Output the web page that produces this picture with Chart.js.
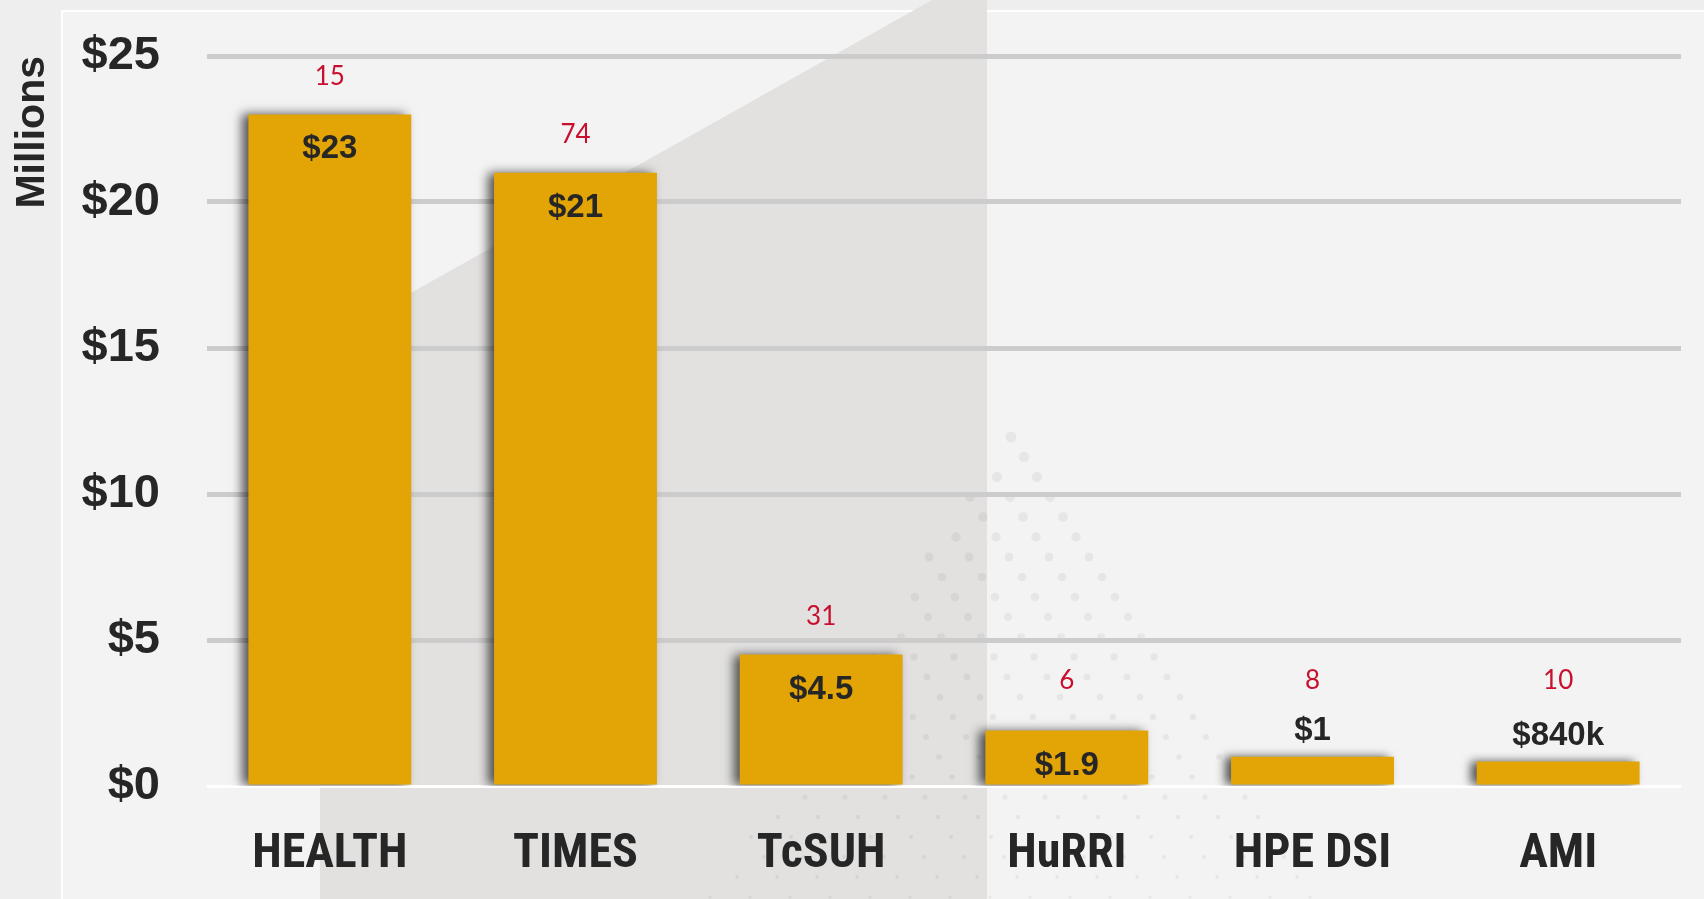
<!DOCTYPE html>
<html><head><meta charset="utf-8">
<script src="https://cdn.jsdelivr.net/npm/chart.js@4.4.1/dist/chart.umd.min.js"></script>
<style>html,body{margin:0;padding:0;background:#f3f2f3;overflow:hidden}#wrap{width:1704px;height:899px;position:relative}</style>
</head><body><div id="wrap"><canvas id="c"></canvas></div>
<script>
// ---- data ----
const categories = ['HEALTH', 'TIMES', 'TcSUH', 'HuRRI', 'HPE DSI', 'AMI'];
const fundingMillions = [23, 21, 4.5, 1.9, 1, 0.84];
const valueLabels = ['$23', '$21', '$4.5', '$1.9', '$1', '$840k'];
const counts = [15, 74, 31, 6, 8, 10];
const yTickLabels = ['$0', '$5', '$10', '$15', '$20', '$25'];
const yAxisTitle = 'Millions';

// ---- styling ----
const TEXT = '#262626';
const BAR = '#e3a505';
const RED = '#c8102e';
const BASE_FONT = '"Liberation Sans", Arial, sans-serif';

function fontAvailable(name) {
  const c = document.createElement('canvas').getContext('2d');
  const s = 'HEALTH TcSUH HuRRI';
  c.font = 'bold 40px monospace'; const a = c.measureText(s).width;
  c.font = 'bold 40px "' + name + '", monospace'; const b = c.measureText(s).width;
  return Math.abs(a - b) > 0.5;
}
let catFamily = BASE_FONT;
for (const f of ['Liberation Sans Narrow', 'Arial Narrow', 'Roboto Condensed', 'DejaVu Sans Condensed']) {
  if (fontAvailable(f)) { catFamily = '"' + f + '", ' + BASE_FONT; break; }
}
const mctx = document.createElement('canvas').getContext('2d');
mctx.font = 'bold 100px ' + catFamily;
let catSize = Math.round(100 * 154 / mctx.measureText('HEALTH').width);
catSize = Math.min(catSize, 50);

const backgroundPlugin = {
  id: 'bg',
  beforeDraw(chart) {
    const ctx = chart.ctx, W = chart.width, H = chart.height;
    ctx.save();
    ctx.fillStyle = '#efeeef'; ctx.fillRect(0, 0, W, H);
    ctx.fillStyle = '#f4f3f4'; ctx.fillRect(62, 11, W - 62, H - 11);
    ctx.strokeStyle = 'rgba(255,255,255,0.9)'; ctx.lineWidth = 2;
    ctx.beginPath(); ctx.moveTo(62, H); ctx.lineTo(62, 11); ctx.lineTo(W, 11); ctx.stroke();
    // decorative grey slanted shape
    ctx.fillStyle = '#e2e1e0';
    ctx.beginPath();
    ctx.moveTo(320, H); ctx.lineTo(320, 344); ctx.lineTo(932, 0); ctx.lineTo(987, 0); ctx.lineTo(987, H);
    ctx.closePath(); ctx.fill();
    // decorative dot pattern on a slanted lattice
    const ax = 1011, ay = 437, sp = 20, dx = 40, shift = 13;
    ctx.fillStyle = 'rgba(0,0,0,0.05)';
    for (let r = 0; ay + r * sp < H + 5; r++) {
      const y = ay + r * sp;
      const spread = 0.66 * (y - ay) + 4;
      const rad = Math.max(1.4, 5.5 - 3.8 * (y - ay) / 462);
      const base = ax + r * shift;
      const kmin = Math.ceil((ax - spread - base) / dx), kmax = Math.floor((ax + spread - base) / dx);
      for (let k = kmin; k <= kmax; k++) {
        const x = base + k * dx;
        ctx.beginPath(); ctx.arc(x, y, rad, 0, Math.PI * 2); ctx.fill();
      }
    }
    ctx.restore();
  }
};

const shadowPlugin = {
  id: 'barShadow',
  beforeDatasetsDraw(chart) {
    const ctx = chart.ctx; ctx.save();
    ctx.shadowColor = 'rgba(0,0,0,0.65)'; ctx.shadowBlur = 10;
    ctx.shadowOffsetX = -6; ctx.shadowOffsetY = 0;
  },
  afterDatasetsDraw(chart) { chart.ctx.restore(); }
};

const labelPlugin = {
  id: 'labels',
  afterDraw(chart) {
    const ctx = chart.ctx, meta = chart.getDatasetMeta(0), ys = chart.scales.y;
    const countFloor = ys.getPixelForValue(3.6);
    ctx.save();
    ctx.textAlign = 'center'; ctx.textBaseline = 'middle';
    meta.data.forEach((bar, i) => {
      const top = bar.y, h = bar.base - bar.y;
      ctx.fillStyle = TEXT;
      ctx.font = 'bold 33px ' + BASE_FONT;
      const vy = h > 45 ? top + 35 : top - 26;
      ctx.fillText(valueLabels[i], bar.x, vy);
      ctx.fillStyle = RED;
      ctx.font = '26px Lato, "Open Sans", sans-serif';
      ctx.fillText(String(counts[i]), bar.x, Math.min(top - 38, countFloor));
    });
    ctx.restore();
  }
};

new Chart(document.getElementById('c'), {
  type: 'bar',
  data: {
    labels: categories,
    datasets: [{
      data: fundingMillions,
      backgroundColor: BAR,
      borderWidth: 0,
      categoryPercentage: 1,
      barPercentage: 0.663
    }]
  },
  options: {
    responsive: true,
    maintainAspectRatio: false,
    animation: false,
    layout: { padding: { top: 56, right: 23, left: 0, bottom: 0 } },
    plugins: { legend: { display: false }, tooltip: { enabled: false } },
    scales: {
      x: {
        grid: { display: false, drawTicks: false },
        border: { display: false },
        ticks: { color: TEXT, font: { family: catFamily, size: catSize, weight: 'bold' }, padding: 855 - 786 - catSize * 0.6, maxRotation: 0, autoSkip: false },
        afterFit(s) { s.height = 899 - 786; s.paddingLeft = 0; s.paddingRight = 0; }
      },
      y: {
        min: 0, max: 25,
        ticks: {
          stepSize: 5, padding: 47, color: TEXT,
          font: { family: BASE_FONT, size: 47, weight: 'bold' },
          callback: (v) => yTickLabels[Math.round(v / 5)]
        },
        grid: {
          drawTicks: false,
          color: (c) => c.tick && c.tick.value === 0 ? '#ffffff' : '#cdcccc',
          lineWidth: (c) => c.tick && c.tick.value === 0 ? 3 : 5
        },
        border: { display: false },
        title: {
          display: true, text: yAxisTitle, align: 'end', color: TEXT,
          font: { family: BASE_FONT, size: 41, weight: 'bold' },
          padding: { top: 8, bottom: 0 }
        },
        afterFit(s) { s.width = 207; s.paddingTop = 0; s.paddingBottom = 0; }
      }
    }
  },
  plugins: [backgroundPlugin, shadowPlugin, labelPlugin]
});
</script>
</body></html>
